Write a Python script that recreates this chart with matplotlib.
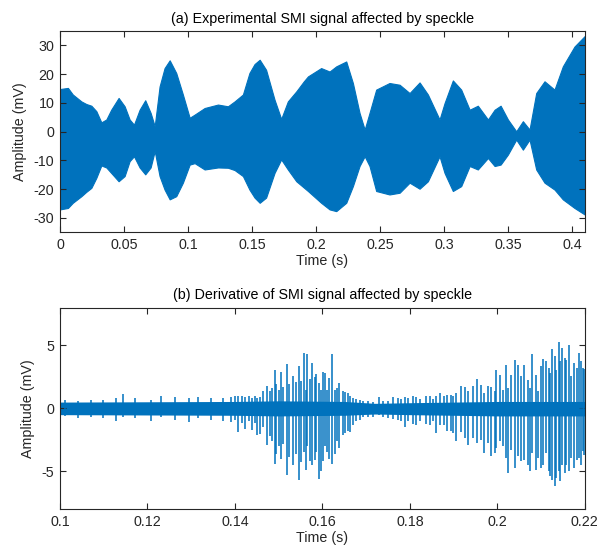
import numpy as np
import matplotlib
matplotlib.use("Agg")
import matplotlib.pyplot as plt

plt.rcParams['font.family'] = ['Liberation Sans', 'DejaVu Sans']
plt.rcParams['axes.unicode_minus'] = False

blue = '#0072BD'
ink = '#262626'

# (a) envelope of the SMI signal
env_t = [0.0, 0.0062, 0.010, 0.0167, 0.0205, 0.0245, 0.0284, 0.0323, 0.0362, 0.040, 0.0458,
         0.0505, 0.0544, 0.0578, 0.0622, 0.0666, 0.0708, 0.074, 0.0778, 0.0817, 0.0857,
         0.0908, 0.096, 0.1013, 0.1052, 0.113, 0.1234, 0.1312, 0.1364, 0.1429, 0.148,
         0.152, 0.156, 0.161, 0.1676, 0.1728, 0.178, 0.1846, 0.1905, 0.1937, 0.204, 0.2106,
         0.2158, 0.2236, 0.2288, 0.234, 0.238, 0.2418, 0.247, 0.2574, 0.2653, 0.2731, 0.2809,
         0.2874, 0.2965, 0.3004, 0.3069, 0.3134, 0.32, 0.3264, 0.3343, 0.3395, 0.3442,
         0.3499, 0.3564, 0.3616, 0.3668, 0.372, 0.3785, 0.3863, 0.3928, 0.4019, 0.41]
env_hi = [14.8, 15.2, 12.9, 10.5, 9.6, 9.0, 7.1, 3.2, 4.2, 7.6, 11.7,
          8.8, 4.2, 2.4, 7.6, 10.9, 6.5, 1.9, 15.7, 22.1, 24.8,
          20.4, 12.9, 4.8, 5.9, 8.2, 9.4, 8.8, 10.5, 12.9, 20.4,
          23.5, 25.0, 21.5, 11.1, 4.4, 10.5, 14.0, 17.5, 19.2, 22.1, 20.9,
          22.7, 24.4, 16.9, 6.5, 0.7, 6.5, 14.6, 16.9, 16.3, 13.4, 17.1,
          12.9, 4.2, 9.9, 17.8, 14.6, 7.6, 9.0, 4.2, 7.6, 9.0,
          4.2, 0.1, 3.6, 0.7, 13.4, 17.5, 14.6, 22.7, 29.6, 33.3]
env_lo = [-27.1, -26.6, -24.8, -22.5, -21.0, -19.6, -16.1, -11.8, -12.5, -14.4, -17.3,
          -15.5, -10.3, -8.6, -12.5, -14.9, -12.5, -6.8, -15.5, -20.2, -23.6,
          -22.5, -17.8, -11.5, -11.0, -13.2, -12.5, -12.6, -13.4, -15.5, -20.2,
          -23.0, -24.8, -23.0, -14.4, -9.7, -13.2, -17.3, -19.5, -20.7, -24.8, -27.1,
          -27.7, -24.8, -19.0, -12.0, -8.6, -12.0, -20.7, -21.9, -21.3, -17.8, -19.9,
          -17.3, -8.6, -14.4, -20.7, -19.0, -12.0, -13.2, -9.2, -12.0, -11.5,
          -8.0, -2.8, -6.3, -2.8, -13.2, -17.8, -20.2, -23.6, -26.6, -28.9]

# (b) derivative: dense band around zero plus individual spikes
band_t = [0.1, 0.14, 0.15, 0.165, 0.172, 0.18, 0.19, 0.2, 0.22]
band_hi = [0.5, 0.55, 0.6, 0.55, 0.4, 0.45, 0.5, 0.55, 0.55]
band_lo = [-0.5, -0.55, -0.6, -0.55, -0.45, -0.5, -0.55, -0.6, -0.6]

spike_t = [0.1011, 0.1041, 0.1072, 0.1098, 0.1129, 0.1144, 0.1171, 0.1209, 0.1230, 0.1262,
           0.1295, 0.1315, 0.1346, 0.1373, 0.1392, 0.1401,
           0.1407, 0.1417, 0.1424, 0.1432, 0.1439, 0.1447, 0.1451, 0.1458, 0.1465, 0.1474,
           0.1481, 0.1485, 0.1491, 0.1494, 0.1500, 0.1506, 0.1511, 0.1519, 0.1523, 0.1533,
           0.1540, 0.1546, 0.1552, 0.1557, 0.1562, 0.1565, 0.1571, 0.1577, 0.1582, 0.1586,
           0.1592, 0.1596, 0.1601, 0.1605, 0.1610, 0.1616, 0.1622,
           0.1628, 0.1633, 0.1639, 0.1647, 0.1652, 0.1658, 0.1664, 0.1670, 0.1677, 0.1685,
           0.1692, 0.1704, 0.1715, 0.1729, 0.1738, 0.1750, 0.1761, 0.1773, 0.1780, 0.1789,
           0.1795, 0.1807, 0.1814, 0.1824,
           0.1837, 0.1845, 0.1853, 0.1860, 0.1868, 0.1878, 0.1885, 0.1893, 0.1898, 0.1906,
           0.1916, 0.1925, 0.1934, 0.1944, 0.1954, 0.1963, 0.1970, 0.1978, 0.1986, 0.1994,
           0.1998, 0.2005, 0.2013, 0.2020,
           0.2025, 0.2032, 0.2041, 0.2047, 0.2054, 0.2062, 0.2070, 0.2074, 0.2080, 0.2088,
           0.2093, 0.2099, 0.2105, 0.2112, 0.2118, 0.2121, 0.2126, 0.2131, 0.2135, 0.2140,
           0.2144, 0.2148, 0.2154, 0.2158, 0.2164, 0.2169, 0.2175, 0.2181, 0.2187, 0.2192,
           0.2196, 0.2199]
spike_hi = [0.7, 0.6, 0.7, 0.7, 0.8, 1.17, 0.8, 0.7, 1.0, 0.9,
            0.8, 0.9, 0.8, 0.8, 0.9, 1.0,
            0.95, 1.0, 0.9, 1.0, 0.8, 1.0, 0.8, 0.9, 1.35, 1.75,
            1.4, 1.6, 3.07, 1.9, 1.5, 2.9, 1.7, 3.5, 1.9, 2.6,
            2.1, 3.4, 2.2, 4.4, 1.5, 4.3, 2.3, 3.6, 2.5, 2.7,
            2.0, 1.5, 2.9, 2.8, 1.5, 2.4, 4.3,
            1.5, 1.6, 2.0, 1.35, 1.3, 1.2, 0.95, 0.8, 0.77, 0.7,
            0.6, 0.6, 0.5, 0.9, 0.6, 0.55, 0.9, 0.82, 0.77, 0.88,
            0.82, 1.0, 0.88, 0.77,
            1.0, 0.95, 0.77, 1.0, 1.22, 0.95, 1.1, 1.05, 0.95, 1.22,
            1.8, 1.67, 1.35, 1.75, 2.36, 1.88, 1.22, 1.8, 1.67, 1.4,
            3.07, 2.62, 1.48, 3.47,
            1.62, 2.67, 3.81, 3.47, 2.54, 3.41, 2.28, 1.62, 4.34, 2.67,
            1.35, 3.34, 3.92, 3.79, 3.21, 2.81, 4.74, 4.13, 3.07, 5.27,
            3.73, 4.79, 4.0, 3.87, 5.0, 2.54, 3.6, 3.21, 4.4, 3.73,
            3.21, 3.15]
spike_lo = [-0.6, -0.8, -0.7, -0.8, -1.0, -0.7, -0.8, -1.0, -0.7, -0.9,
            -1.05, -0.8, -0.9, -1.0, -1.1, -0.9,
            -1.9, -1.2, -1.6, -1.0, -1.7, -1.2, -2.1, -2.0, -1.5, -2.9,
            -2.2, -2.6, -4.4, -3.6, -3.0, -4.0, -2.8, -5.3, -3.9, -4.5,
            -3.6, -5.7, -4.3, -3.5, -4.9, -3.0, -4.2, -4.5, -4.1, -3.5,
            -5.6, -5.0, -4.2, -3.0, -3.5, -4.0, -4.4,
            -3.6, -2.6, -3.15, -2.1, -1.95, -1.8, -1.9, -1.3, -1.0, -0.9,
            -0.65, -0.7, -0.65, -0.5, -0.7, -0.77, -0.85, -0.9, -0.98, -1.48,
            -1.03, -1.24, -1.35, -1.03,
            -1.24, -1.29, -1.03, -1.96, -1.29, -1.29, -1.77, -1.82, -1.96, -2.62,
            -1.88, -2.35, -2.88, -2.35, -2.75, -2.49, -3.54, -2.75, -3.8, -3.54,
            -3.15, -2.62, -3.01, -3.94,
            -5.13, -3.28, -4.73, -3.8, -4.2, -4.07, -4.47, -5.0, -3.54, -4.86,
            -3.94, -4.73, -4.47, -3.54, -5.0, -5.39, -5.73, -6.19, -5.53, -5.0,
            -5.79, -4.47, -5.13, -4.47, -5.0, -3.94, -4.73, -4.07, -3.94, -4.47,
            -3.41, -3.67]

top_xticks = [0, 0.05, 0.1, 0.15, 0.2, 0.25, 0.3, 0.35, 0.4]
top_xlabels = ['0', '0.05', '0.1', '0.15', '0.2', '0.25', '0.3', '0.35', '0.4']
top_yticks = [-30, -20, -10, 0, 10, 20, 30]
bot_xticks = [0.1, 0.12, 0.14, 0.16, 0.18, 0.2, 0.22]
bot_xlabels = ['0.1', '0.12', '0.14', '0.16', '0.18', '0.2', '0.22']
bot_yticks = [-5, 0, 5]

fs = 10.3

fig = plt.figure(figsize=(5.98, 5.5), dpi=100)
ax1 = fig.add_axes([0.1003, 0.578, 0.8777, 0.3656])
ax2 = fig.add_axes([0.1003, 0.0745, 0.8777, 0.366])


def style(ax):
    for s in ax.spines.values():
        s.set_color(ink)
        s.set_linewidth(0.8)
    ax.tick_params(direction='in', top=True, right=True, length=4, width=0.8,
                   colors=ink, labelsize=fs, pad=4)


ax1.fill_between(env_t, env_lo, env_hi, color=blue, lw=0.8, edgecolor=blue)
ax1.set_xlim(0, 0.41)
ax1.set_ylim(-35, 35)
ax1.set_xticks(top_xticks)
ax1.set_xticklabels(top_xlabels)
ax1.set_yticks(top_yticks)
ax1.set_xlabel('Time (s)', fontsize=fs, color=ink, labelpad=2)
ax1.set_ylabel('Amplitude (mV)', fontsize=fs, color=ink, labelpad=5)
ax1.set_title('(a) Experimental SMI signal affected by speckle', fontsize=fs, color='black', pad=6)
style(ax1)

ax2.fill_between(band_t, band_lo, band_hi, color=blue, lw=0)
ax2.vlines(spike_t, spike_lo, spike_hi, color=blue, lw=1.1)
ax2.set_xlim(0.1, 0.22)
ax2.set_ylim(-8, 8)
ax2.set_xticks(bot_xticks)
ax2.set_xticklabels(bot_xlabels)
ax2.set_yticks(bot_yticks)
ax2.set_xlabel('Time (s)', fontsize=fs, color=ink, labelpad=2)
ax2.set_ylabel('Amplitude (mV)', fontsize=fs, color=ink, labelpad=5)
ax2.set_title('(b) Derivative of SMI signal affected by speckle', fontsize=fs, color='black', pad=6)
style(ax2)

fig.savefig('out.png', dpi=100)
